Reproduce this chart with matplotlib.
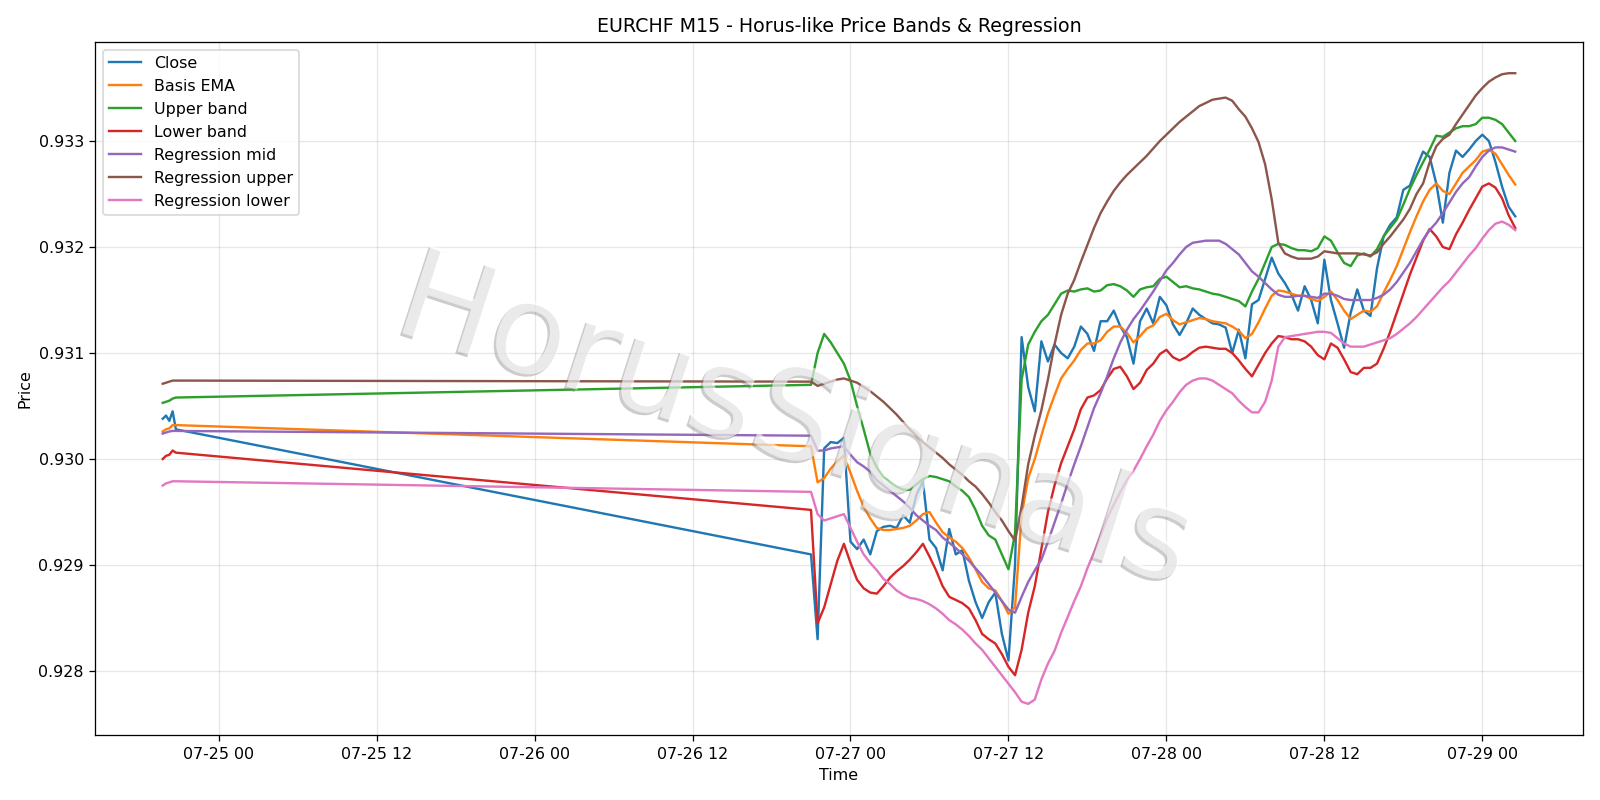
import numpy as np
import pandas as pd
import matplotlib
matplotlib.use("Agg")
import matplotlib.pyplot as plt
import matplotlib.patheffects as pe

# two sessions of M15 data: a short Thursday tail, then Sunday night onwards
times = pd.date_range("2025-07-24 19:45", periods=5, freq="15min").append(
    pd.date_range("2025-07-26 21:00", periods=108, freq="30min")
)

close = [
    0.93038, 0.93041, 0.93036, 0.93045, 0.93028,
    0.92910, 0.92830, 0.93010, 0.93016, 0.93015, 0.93020, 0.92922, 0.92915, 0.92924, 0.92910,
    0.92932, 0.92936, 0.92937, 0.92935, 0.92947, 0.92940, 0.92966, 0.92979, 0.92924, 0.92916,
    0.92895, 0.92934, 0.92910, 0.92914, 0.92885, 0.92865, 0.92850, 0.92865, 0.92874, 0.92835,
    0.92810, 0.92900, 0.93115, 0.93068, 0.93045, 0.93111, 0.93092, 0.93108, 0.93100, 0.93095,
    0.93106, 0.93125, 0.93118, 0.93102, 0.93130, 0.93130, 0.93140, 0.93125, 0.93115, 0.93090,
    0.93130, 0.93142, 0.93128, 0.93153, 0.93145, 0.93127, 0.93117, 0.93128, 0.93142, 0.93136,
    0.93132, 0.93128, 0.93127, 0.93124, 0.93100, 0.93122, 0.93095, 0.93146, 0.93150, 0.93170,
    0.93190, 0.93175, 0.93166, 0.93155, 0.93140, 0.93163, 0.93150, 0.93128, 0.93188, 0.93150,
    0.93128, 0.93105, 0.93138, 0.93160, 0.93140, 0.93135, 0.93180, 0.93210, 0.93221, 0.93228,
    0.93254, 0.93258, 0.93275, 0.93290, 0.93285, 0.93260, 0.93223, 0.93270, 0.93291, 0.93285,
    0.93292, 0.93300, 0.93306, 0.93300, 0.93280, 0.93257, 0.93238, 0.93229,
]

basis_ema = [
    0.93026, 0.93028, 0.93029, 0.93032, 0.93032,
    0.93012, 0.92978, 0.92982, 0.92991, 0.92998, 0.93003, 0.92987, 0.92970, 0.92955, 0.92944,
    0.92935, 0.92933, 0.92933, 0.92934, 0.92935, 0.92937, 0.92942, 0.92948, 0.92950, 0.92940,
    0.92931, 0.92926, 0.92922, 0.92916, 0.92907, 0.92896, 0.92884, 0.92878, 0.92876, 0.92866,
    0.92854, 0.92860, 0.92947, 0.92982, 0.93000, 0.93022, 0.93043, 0.93060, 0.93076, 0.93085,
    0.93093, 0.93103, 0.93109, 0.93109, 0.93112, 0.93120, 0.93125, 0.93125, 0.93119, 0.93110,
    0.93116, 0.93123, 0.93126, 0.93134, 0.93137, 0.93131, 0.93127, 0.93129, 0.93131, 0.93133,
    0.93132, 0.93130, 0.93129, 0.93128, 0.93125, 0.93121, 0.93114, 0.93118, 0.93129, 0.93142,
    0.93154, 0.93159, 0.93158, 0.93156, 0.93154, 0.93154, 0.93151, 0.93149, 0.93153, 0.93158,
    0.93150, 0.93140, 0.93132, 0.93136, 0.93140, 0.93139, 0.93144, 0.93157, 0.93169, 0.93182,
    0.93198, 0.93214, 0.93229, 0.93243, 0.93254, 0.93260, 0.93253, 0.93250, 0.93260, 0.93270,
    0.93276, 0.93282, 0.93290, 0.93292, 0.93288, 0.93278, 0.93268, 0.93259,
]

upper_band = [
    0.93053, 0.93054, 0.93055, 0.93057, 0.93058,
    0.93070, 0.93100, 0.93118, 0.93110, 0.93100, 0.93090, 0.93074, 0.93050, 0.93028, 0.93005,
    0.92992, 0.92983, 0.92978, 0.92974, 0.92971, 0.92971, 0.92976, 0.92981, 0.92984, 0.92983,
    0.92981, 0.92979, 0.92974, 0.92970, 0.92964, 0.92952, 0.92937, 0.92928, 0.92924, 0.92910,
    0.92896, 0.92930, 0.93075, 0.93108, 0.93120, 0.93130, 0.93136, 0.93146, 0.93156, 0.93159,
    0.93158, 0.93160, 0.93161, 0.93158, 0.93159, 0.93164, 0.93165, 0.93163, 0.93159, 0.93153,
    0.93160, 0.93162, 0.93163, 0.93170, 0.93172, 0.93167, 0.93162, 0.93163, 0.93161, 0.93160,
    0.93158, 0.93156, 0.93155, 0.93153, 0.93151, 0.93149, 0.93144, 0.93158, 0.93170, 0.93185,
    0.93200, 0.93203, 0.93202, 0.93199, 0.93197, 0.93197, 0.93196, 0.93199, 0.93210, 0.93206,
    0.93195, 0.93185, 0.93182, 0.93192, 0.93194, 0.93191, 0.93198, 0.93210, 0.93218, 0.93226,
    0.93240, 0.93255, 0.93268, 0.93280, 0.93292, 0.93305, 0.93304, 0.93308, 0.93312, 0.93314,
    0.93314, 0.93316, 0.93322, 0.93322, 0.93320, 0.93316, 0.93308, 0.93300,
]

lower_band = [
    0.93000, 0.93003, 0.93004, 0.93008, 0.93006,
    0.92952, 0.92845, 0.92860, 0.92882, 0.92904, 0.92920, 0.92902, 0.92886, 0.92878, 0.92874,
    0.92873, 0.92880, 0.92888, 0.92894, 0.92899, 0.92905, 0.92912, 0.92920, 0.92908, 0.92895,
    0.92880, 0.92870, 0.92867, 0.92864, 0.92859, 0.92848, 0.92835, 0.92830, 0.92826, 0.92816,
    0.92804, 0.92796, 0.92820, 0.92855, 0.92880, 0.92915, 0.92950, 0.92975, 0.92996, 0.93012,
    0.93028, 0.93047, 0.93058, 0.93060, 0.93065, 0.93076, 0.93085, 0.93087, 0.93078, 0.93066,
    0.93072, 0.93084, 0.93090, 0.93099, 0.93103, 0.93096, 0.93093, 0.93096, 0.93101, 0.93105,
    0.93106, 0.93105, 0.93104, 0.93104, 0.93100, 0.93093, 0.93085, 0.93078, 0.93089, 0.93100,
    0.93109, 0.93116, 0.93115, 0.93113, 0.93113, 0.93111, 0.93106, 0.93098, 0.93094, 0.93109,
    0.93105, 0.93094, 0.93082, 0.93080, 0.93086, 0.93086, 0.93090, 0.93104, 0.93120, 0.93138,
    0.93156, 0.93174, 0.93190, 0.93206, 0.93217, 0.93210, 0.93200, 0.93198, 0.93212, 0.93223,
    0.93235, 0.93246, 0.93257, 0.93260, 0.93256, 0.93246, 0.93230, 0.93218,
]

reg_mid = [
    0.93024, 0.93025, 0.93026, 0.930265, 0.930265,
    0.93022, 0.93008, 0.93008, 0.93010, 0.93011, 0.93012, 0.93004, 0.92997, 0.92993, 0.92988,
    0.92980, 0.92975, 0.92970, 0.92965, 0.92960, 0.92954, 0.92947, 0.92942, 0.92937, 0.92933,
    0.92926, 0.92921, 0.92916, 0.92910, 0.92904, 0.92897, 0.92890, 0.92882, 0.92874, 0.92866,
    0.92858, 0.92855, 0.92870, 0.92884, 0.92895, 0.92905, 0.92922, 0.92940, 0.92958, 0.92977,
    0.92995, 0.93012, 0.93030, 0.93048, 0.93062, 0.93078, 0.93095, 0.93110, 0.93122, 0.93132,
    0.93140, 0.93149, 0.93158, 0.93168, 0.93178, 0.93185, 0.93193, 0.93200, 0.93204, 0.93205,
    0.93206, 0.93206, 0.93206, 0.93203, 0.93198, 0.93193, 0.93185, 0.93177, 0.93172, 0.93166,
    0.93160, 0.93155, 0.93153, 0.93153, 0.93154, 0.93154, 0.93153, 0.93152, 0.93156, 0.93156,
    0.93154, 0.93151, 0.93150, 0.93150, 0.93150, 0.93150, 0.93152, 0.93155, 0.93160, 0.93167,
    0.93176, 0.93185, 0.93196, 0.93207, 0.93216, 0.93223, 0.93232, 0.93242, 0.93252, 0.93260,
    0.93266, 0.93276, 0.93285, 0.93291, 0.93294, 0.93294, 0.93292, 0.93290,
]

reg_upper = [
    0.93071, 0.93072, 0.93073, 0.93074, 0.93074,
    0.93073, 0.93069, 0.93071, 0.93073, 0.93075, 0.93076, 0.93074, 0.93072, 0.93068, 0.93064,
    0.93059, 0.93054, 0.93048, 0.93042, 0.93035, 0.93028, 0.93022, 0.93016, 0.93011, 0.93006,
    0.93001, 0.92995, 0.92990, 0.92985, 0.92979, 0.92974, 0.92967, 0.92959, 0.92950, 0.92942,
    0.92932, 0.92923, 0.92955, 0.92995, 0.93022, 0.93046, 0.93075, 0.93108, 0.93136, 0.93156,
    0.93169, 0.93186, 0.93202, 0.93218, 0.93232, 0.93243, 0.93253, 0.93261, 0.93268, 0.93274,
    0.93280, 0.93286, 0.93293, 0.93300, 0.93306, 0.93312, 0.93318, 0.93323, 0.93328, 0.93333,
    0.93336, 0.93339, 0.93340, 0.93341, 0.93338, 0.93330, 0.93323, 0.93312, 0.93299, 0.93278,
    0.93245, 0.93204, 0.93194, 0.93191, 0.93189, 0.93189, 0.93189, 0.93191, 0.93196, 0.93195,
    0.93194, 0.93194, 0.93194, 0.93194, 0.93193, 0.93192, 0.93195, 0.93203, 0.93210, 0.93218,
    0.93226, 0.93236, 0.93250, 0.93260, 0.93280, 0.93295, 0.93302, 0.93306, 0.93316, 0.93325,
    0.93334, 0.93343, 0.93350, 0.93356, 0.93360, 0.93363, 0.93364, 0.93364,
]

reg_lower = [
    0.92975, 0.92977, 0.92978, 0.92979, 0.92979,
    0.92969, 0.92948, 0.92942, 0.92944, 0.92946, 0.92948, 0.92935, 0.92922, 0.92910, 0.92902,
    0.92895, 0.92887, 0.92882, 0.92876, 0.92872, 0.92869, 0.92868, 0.92866, 0.92863, 0.92859,
    0.92854, 0.92848, 0.92844, 0.92839, 0.92833, 0.92826, 0.92820, 0.92812, 0.92804, 0.92796,
    0.92788, 0.92780, 0.92771, 0.92769, 0.92773, 0.92792, 0.92807, 0.92819, 0.92836, 0.92851,
    0.92866, 0.92880, 0.92897, 0.92912, 0.92928, 0.92944, 0.92957, 0.92969, 0.92980, 0.92989,
    0.93000, 0.93012, 0.93023, 0.93036, 0.93046, 0.93054, 0.93063, 0.93070, 0.93074, 0.93076,
    0.93076, 0.93074, 0.93070, 0.93066, 0.93062, 0.93055, 0.93049, 0.93044, 0.93044, 0.93054,
    0.93074, 0.93106, 0.93115, 0.93116, 0.93117, 0.93118, 0.93119, 0.93120, 0.93120, 0.93119,
    0.93114, 0.93109, 0.93106, 0.93106, 0.93106, 0.93108, 0.93110, 0.93112, 0.93114, 0.93118,
    0.93123, 0.93128, 0.93134, 0.93141, 0.93148, 0.93155, 0.93162, 0.93168, 0.93176, 0.93184,
    0.93192, 0.93199, 0.93208, 0.93216, 0.93222, 0.93224, 0.93221, 0.93216,
]

series = [
    ("Close", close),
    ("Basis EMA", basis_ema),
    ("Upper band", upper_band),
    ("Lower band", lower_band),
    ("Regression mid", reg_mid),
    ("Regression upper", reg_upper),
    ("Regression lower", reg_lower),
]

fig, ax = plt.subplots(figsize=(14, 7), dpi=800 / 7)
for label, values in series:
    ax.plot(times, values, label=label)

ax.set_title("EURCHF M15 - Horus-like Price Bands & Regression")
ax.set_xlabel("Time")
ax.set_ylabel("Price")
ax.grid(True, alpha=0.3)
ax.legend(loc="upper left")
fig.tight_layout()

# watermark
fig.text(
    0.497, 0.47, "HorusSignals",
    fontsize=80, color="white", alpha=0.6,
    rotation=-18, ha="center", va="center",
    path_effects=[pe.withSimplePatchShadow(offset=(-1.5, -1.5), shadow_rgbFace="gray", alpha=0.4)],
)

fig.savefig("out.png")
